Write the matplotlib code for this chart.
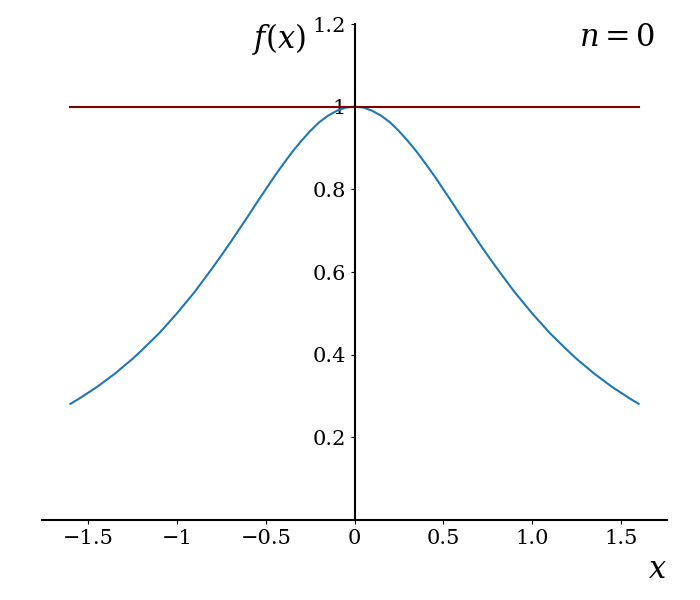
import matplotlib

matplotlib.use("Agg")
import matplotlib.pyplot as plt

plt.rcParams["font.family"] = "DejaVu Serif"
plt.rcParams["mathtext.fontset"] = "dejavuserif"

# right half of the curve (the curve is symmetric about x = 0)
X_HALF = [0.0, 0.05, 0.1, 0.15, 0.2, 0.25, 0.3, 0.35, 0.4, 0.45, 0.5, 0.55,
          0.6, 0.65, 0.7, 0.75, 0.8, 0.85, 0.9, 0.95, 1.0, 1.05, 1.1, 1.15,
          1.2, 1.25, 1.3, 1.35, 1.4, 1.45, 1.5, 1.55, 1.6]
F_HALF = [1.000, 0.998, 0.990, 0.978, 0.962, 0.941, 0.917, 0.891, 0.862, 0.832, 0.800, 0.768,
          0.735, 0.703, 0.671, 0.640, 0.610, 0.581, 0.552, 0.526, 0.500, 0.476, 0.452, 0.431,
          0.410, 0.390, 0.372, 0.354, 0.338, 0.322, 0.308, 0.294, 0.281]
X_VALUES = [-x for x in X_HALF[:0:-1]] + X_HALF
F_VALUES = F_HALF[:0:-1] + F_HALF
APPROX_X = [-1.6, 1.6]
APPROX_Y = [1.0, 1.0]

X_TICKS = [-1.5, -1.0, -0.5, 0.0, 0.5, 1.0, 1.5]
X_TICK_LABELS = ["\u22121.5", "\u22121", "\u22120.5", "0", "0.5", "1.0", "1.5"]
Y_TICKS = [0.2, 0.4, 0.6, 0.8, 1.0, 1.2]
Y_TICK_LABELS = ["0.2", "0.4", "0.6", "0.8", "1", "1.2"]

fig = plt.figure(figsize=(7, 6), dpi=100)
ax = fig.add_axes([0.06, 0.1333, 0.893, 0.8267])

ax.plot(X_VALUES, F_VALUES, color="#1f77b4", linewidth=1.5)
ax.plot(APPROX_X, APPROX_Y, color="#800000", linewidth=1.5)

ax.set_xlim(-1.76, 1.76)
ax.set_ylim(0, 1.2)
ax.spines["left"].set_position(("data", 0))
ax.spines["bottom"].set_position(("data", 0))
ax.spines["right"].set_visible(False)
ax.spines["top"].set_visible(False)
ax.spines["left"].set_linewidth(1.5)
ax.spines["bottom"].set_linewidth(1.5)

ax.set_xticks(X_TICKS, X_TICK_LABELS)
ax.set_yticks(Y_TICKS, Y_TICK_LABELS)
ax.tick_params(labelsize=15, length=3)

fig.text(0.437, 0.935, "$f(x)$", fontsize=22, ha="right", va="center")
fig.text(0.936, 0.937, "$n = 0$", fontsize=22, ha="right", va="center")
fig.text(0.952, 0.05, "$x$", fontsize=22, ha="right", va="center")

fig.savefig("out.png", dpi=100)
